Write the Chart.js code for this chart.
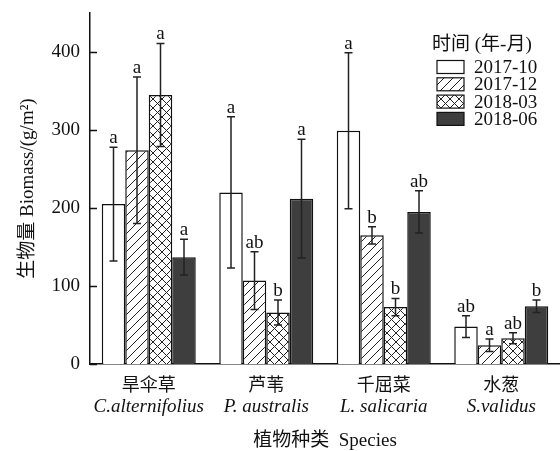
<!DOCTYPE html>
<html>
<head>
<meta charset="utf-8">
<script src="https://cdn.jsdelivr.net/npm/chart.js@4/dist/chart.umd.min.js"></script>
<style>
  html, body { margin: 0; padding: 0; background: #fff; }
  canvas { display: block; }
</style>
</head>
<body>
<canvas id="c" width="560" height="451"></canvas>
<script>
const categories = ['旱伞草', '芦苇', '千屈菜', '水葱'];
const latinNames = ['C.alternifolius', 'P. australis', 'L. salicaria', 'S.validus'];
const seriesNames = ['2017-10', '2017-12', '2018-03', '2018-06'];

const oct2017 = [205, 220, 299, 48];
const dec2017 = [274, 107, 165, 24];
const mar2018 = [345, 66, 73, 33];
const jun2018 = [137, 212, 195, 74];

const errOct2017 = [73, 97, 100, 14];
const errDec2017 = [94, 37, 11, 8];
const errMar2018 = [66, 16, 11, 7];
const errJun2018 = [23, 76, 27, 8];

const lettersOct2017 = ['a', 'a', 'a', 'ab'];
const lettersDec2017 = ['a', 'ab', 'b', 'a'];
const lettersMar2018 = ['a', 'b', 'b', 'ab'];
const lettersJun2018 = ['a', 'a', 'ab', 'b'];

const yTicks = [0, 100, 200, 300, 400];

const errors = [errOct2017, errDec2017, errMar2018, errJun2018];
const letters = [lettersOct2017, lettersDec2017, lettersMar2018, lettersJun2018];

const serif = "'Liberation Serif', 'Noto Sans CJK SC', serif";
const cjk = "'Noto Sans CJK SC', sans-serif";
const ink = '#111';

function makePattern(fwd, back) {
  const c = document.createElement('canvas');
  c.width = 9; c.height = 9;
  const g = c.getContext('2d');
  g.fillStyle = '#fff';
  g.fillRect(0, 0, 9, 9);
  g.strokeStyle = '#222';
  g.lineWidth = 1;
  g.beginPath();
  if (fwd) {
    g.moveTo(-1, 10); g.lineTo(10, -1);
  }
  if (back) {
    g.moveTo(-1, -1); g.lineTo(10, 10);
  }
  g.stroke();
  return g.createPattern(c, 'repeat');
}

const fills = ['#ffffff', makePattern(true, false), makePattern(true, true), '#3e3e3e'];

// error bars, letters, inward ticks, latin names, legend
const extras = {
  id: 'extras',
  afterDatasetsDraw(chart) {
    const ctx = chart.ctx;
    const y = chart.scales.y;
    const x = chart.scales.x;
    ctx.save();
    chart.data.datasets.forEach((ds, i) => {
      const meta = chart.getDatasetMeta(i);
      meta.data.forEach((bar, j) => {
        const v = ds.data[j];
        const e = errors[i][j];
        const top = y.getPixelForValue(v + e);
        const bot = y.getPixelForValue(v - e);
        ctx.strokeStyle = '#222';
        ctx.lineWidth = 1.5;
        ctx.beginPath();
        ctx.moveTo(bar.x, top); ctx.lineTo(bar.x, bot);
        ctx.moveTo(bar.x - 4, top); ctx.lineTo(bar.x + 4, top);
        ctx.moveTo(bar.x - 4, bot); ctx.lineTo(bar.x + 4, bot);
        ctx.stroke();
        ctx.fillStyle = ink;
        ctx.font = '19px ' + serif;
        ctx.textAlign = 'center';
        ctx.textBaseline = 'alphabetic';
        ctx.fillText(letters[i][j], bar.x, top - 4);
      });
    });

    // inward y ticks
    ctx.strokeStyle = ink;
    ctx.lineWidth = 1.5;
    ctx.beginPath();
    y.ticks.forEach(t => {
      const py = Math.round(y.getPixelForValue(t.value)) + 0.5;
      ctx.moveTo(chart.chartArea.left, py);
      ctx.lineTo(chart.chartArea.left + 7, py);
    });
    ctx.stroke();

    // latin names under categories
    ctx.fillStyle = ink;
    ctx.font = 'italic 19px ' + serif;
    ctx.textAlign = 'center';
    ctx.textBaseline = 'middle';
    latinNames.forEach((n, j) => {
      ctx.fillText(n, x.getPixelForTick(j), 407);
    });

    // legend
    ctx.textAlign = 'left';
    ctx.font = '19px ' + serif;
    ctx.fillText('时间 (年-月)', 432, 45);
    seriesNames.forEach((n, i) => {
      const cy = 67 + i * 17.3;
      ctx.fillStyle = fills[i];
      ctx.fillRect(437, cy - 6.5, 27, 13);
      ctx.strokeStyle = ink;
      ctx.lineWidth = 1.2;
      ctx.strokeRect(437, cy - 6.5, 27, 13);
      ctx.fillStyle = ink;
      ctx.fillText(n, 474, cy + 1);
    });
    ctx.restore();
  }
};

new Chart(document.getElementById('c'), {
  type: 'bar',
  data: {
    labels: categories,
    datasets: [oct2017, dec2017, mar2018, jun2018].map((d, i) => ({
      label: seriesNames[i],
      data: d,
      backgroundColor: fills[i],
      borderColor: ink,
      borderWidth: 1.5,
      categoryPercentage: 0.8,
      barPercentage: 1.0,
    })),
  },
  options: {
    responsive: false,
    animation: false,
    layout: { padding: { top: 13, right: 0, left: 0, bottom: 0 } },
    plugins: {
      legend: { display: false },
      tooltip: { enabled: false },
    },
    scales: {
      x: {
        grid: { display: false, drawTicks: false },
        border: { display: true, color: ink, width: 1.5 },
        ticks: { color: ink, padding: 9, font: { family: cjk, size: 18 } },
        title: {
          display: true,
          text: '植物种类  Species',
          color: ink,
          font: { family: serif, size: 19, lineHeight: 1 },
          padding: 0,
        },
        afterFit(s) { s.height = 87; s.paddingLeft = 0; s.paddingRight = 0; },
      },
      y: {
        min: 0,
        max: 450,
        grid: { display: false, drawTicks: false },
        border: { display: true, color: ink, width: 1.5 },
        afterBuildTicks(s) { s.ticks = yTicks.map(v => ({ value: v })); },
        ticks: { color: ink, padding: 10, font: { family: serif, size: 19 } },
        title: {
          display: true,
          text: '生物量 Biomass/(g/m²)',
          color: ink,
          font: { family: serif, size: 19, lineHeight: 1 },
          padding: { top: 19, bottom: 0 },
        },
        afterFit(s) { s.width = 90; s.paddingTop = 0; s.paddingBottom = 0; },
      },
    },
  },
  plugins: [extras],
});
</script>
</body>
</html>
